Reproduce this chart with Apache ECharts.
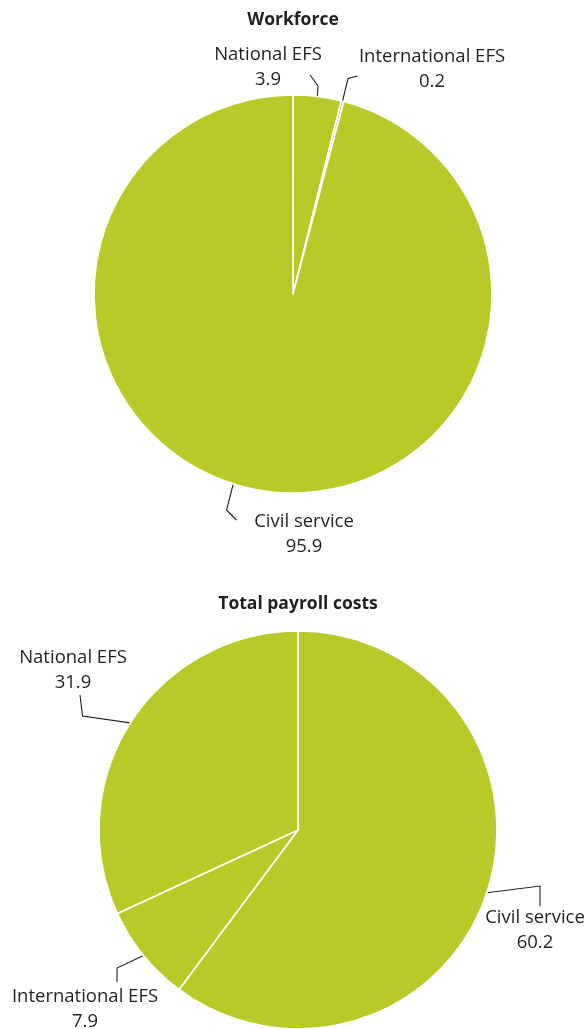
<!DOCTYPE html>
<html>
<head>
<meta charset="utf-8">
<script src="https://cdn.jsdelivr.net/npm/echarts@6/dist/echarts.min.js"></script>
<style>
  html, body { margin: 0; padding: 0; background: #ffffff; }
  #chart { width: 588px; height: 1029px; }
</style>
</head>
<body>
<div id="chart"></div>
<script>
// Share of workforce and of total payroll costs by staff type (%)
const workforceNames = ['National EFS', 'International EFS', 'Civil service'];
const workforceValues = [3.9, 0.2, 95.9];
const payrollNames = ['Civil service', 'International EFS', 'National EFS'];
const payrollValues = [60.2, 7.9, 31.9];
const chartTitles = ['Workforce', 'Total payroll costs'];

const GREEN = '#b9c928';
const TEXT = '#231f20';
const FONT = '"Open Sans", "Noto Sans", sans-serif';

// Label placement per slice: label block (centre x, top y) plus the
// elbow and end of its leader line; the line starts on the slice edge
// unless a start point is given.
const workforceLabels = [
  { x: 268, y: 42, elbow: [318, 86], end: [310, 75] },
  { x: 432, y: 44, elbow: [348, 78.5], end: [357.5, 76] },
  { x: 304, y: 509, start: [233.5, 483], elbow: [226.5, 510], end: [236.5, 520] }
];
const payrollLabels = [
  { x: 535, y: 905, elbow: [540, 886], end: [540, 906] },
  { x: 85, y: 984, elbow: [117, 968], end: [117, 982] },
  { x: 73, y: 645, elbow: [82.5, 716], end: [80, 695] }
];

function toData(names, values) {
  return names.map((n, i) => ({ name: n, value: values[i] }));
}

function pieSeries(names, values, center, placement) {
  return {
    type: 'pie',
    center: center,
    radius: [0, 199],
    startAngle: 90,
    clockwise: true,
    avoidLabelOverlap: false,
    silent: true,
    itemStyle: { color: GREEN, borderColor: '#ffffff', borderWidth: 1.6 },
    label: {
      show: true,
      position: 'outside',
      formatter: '{b}\n{c}',
      color: TEXT,
      fontFamily: FONT,
      fontSize: 18.5,
      lineHeight: 25,
      align: 'center'
    },
    labelLine: {
      show: true,
      length: 10,
      length2: 10,
      lineStyle: { color: '#231f20', width: 1.1 }
    },
    labelLayout: function (params) {
      const p = placement[params.dataIndex];
      const start = p.start || (params.labelLinePoints ? params.labelLinePoints[0] : p.elbow);
      return {
        x: p.x,
        y: p.y,
        align: 'center',
        verticalAlign: 'top',
        labelLinePoints: [start, p.elbow, p.end]
      };
    },
    data: toData(names, values)
  };
}

const chart = echarts.init(document.getElementById('chart'), null, { renderer: 'canvas' });
chart.setOption({
  animation: false,
  backgroundColor: '#ffffff',
  title: [
    {
      text: chartTitles[0], left: 288, top: 6, textAlign: 'center',
      textStyle: { fontFamily: FONT, fontSize: 17.5, fontWeight: 'bold', color: TEXT }
    },
    {
      text: chartTitles[1], left: 293, top: 590, textAlign: 'center',
      textStyle: { fontFamily: FONT, fontSize: 17.5, fontWeight: 'bold', color: TEXT }
    }
  ],
  series: [
    pieSeries(workforceNames, workforceValues, [293, 294], workforceLabels),
    pieSeries(payrollNames, payrollValues, [298, 830], payrollLabels)
  ]
});
</script>
</body>
</html>
